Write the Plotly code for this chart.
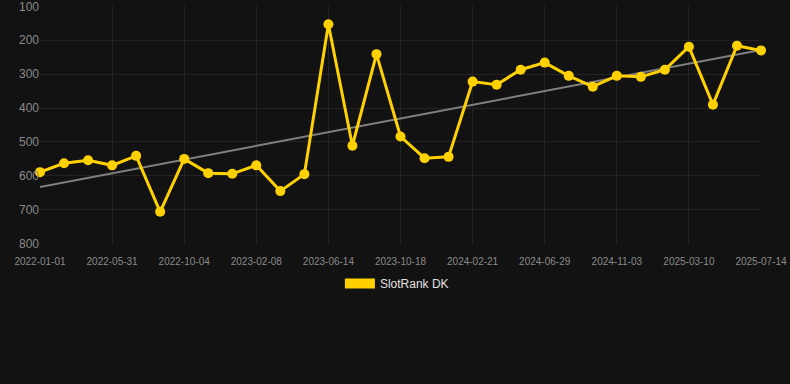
import numpy as np
import plotly.graph_objects as go

dates = [
    "2022-01-01", "2022-02-20", "2022-04-11", "2022-05-31", "2022-07-12", "2022-08-23",
    "2022-10-04", "2022-11-15", "2022-12-28", "2023-02-08", "2023-03-22", "2023-05-03",
    "2023-06-14", "2023-07-26", "2023-09-06", "2023-10-18", "2023-11-29", "2024-01-10",
    "2024-02-21", "2024-04-03", "2024-05-17", "2024-06-29", "2024-08-10", "2024-09-22",
    "2024-11-03", "2024-12-15", "2025-01-27", "2025-03-10", "2025-04-21", "2025-06-02",
    "2025-07-14",
]
ranks = [589, 563, 554, 569, 541, 706, 550, 592, 594, 569, 645, 595, 153, 511, 241,
         484, 548, 544, 322, 331, 287, 266, 305, 337, 305, 308, 287, 219, 390, 216, 230]
tick_labels = dates[::3]
y_ticks = [100, 200, 300, 400, 500, 600, 700, 800]
series_name = "SlotRank DK"

idx = np.arange(len(ranks))
slope, intercept = np.polyfit(idx, ranks, 1)
trend = slope * idx + intercept

YELLOW = "#FFD100"
BG = "#121212"

fig = go.Figure()
fig.add_trace(go.Scatter(
    x=dates, y=trend, mode="lines",
    line=dict(color="#808080", width=2), showlegend=False, hoverinfo="skip",
))
fig.add_trace(go.Scatter(
    x=dates, y=ranks, mode="lines+markers", name=series_name,
    line=dict(color=YELLOW, width=3),
    marker=dict(color=YELLOW, size=10),
    cliponaxis=False, showlegend=False,
))
fig.add_trace(go.Scatter(
    x=[None], y=[None], mode="lines", name=series_name,
    line=dict(color=YELLOW, width=11), showlegend=True,
))

fig.update_layout(
    width=790, height=384,
    paper_bgcolor=BG, plot_bgcolor=BG,
    margin=dict(l=40, r=29, t=6, b=140),
    font=dict(family="Liberation Sans, Arial, sans-serif", color="#9a9a9a"),
    showlegend=True,
    legend=dict(
        orientation="h", x=0.495, xanchor="center", y=-0.105, yanchor="top",
        font=dict(size=12, color="#e0e0e0"),
        bgcolor="rgba(0,0,0,0)",
    ),
    xaxis=dict(
        type="category", range=[0, len(dates) - 1],
        tickvals=tick_labels, ticktext=tick_labels,
        showgrid=True, gridcolor="#232323", gridwidth=1,
        zeroline=False, showline=False,
        tickfont=dict(size=10, color="#8a8a8a"),
        ticks="outside", ticklen=8, tickcolor=BG,
        ticklabeloverflow="allow", automargin=False,
    ),
    yaxis=dict(
        range=[801, 99], tickvals=y_ticks,
        showgrid=True, gridcolor="#232323", gridwidth=1,
        zeroline=False, showline=False,
        tickfont=dict(size=12, color="#8a8a8a"),
        ticks="", ticklen=0,
        ticklabeloverflow="allow", automargin=False,
    ),
)

fig.write_html(
    "out.html",
    config={"displayModeBar": False},
    post_script="document.body.style.margin='0';document.body.style.background='#121212';",
)
